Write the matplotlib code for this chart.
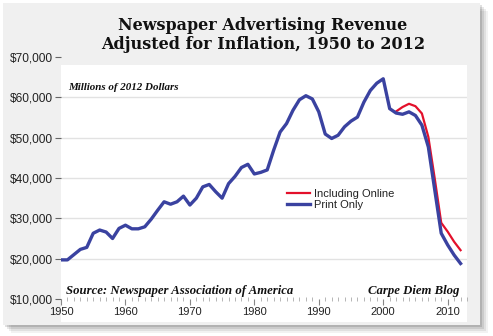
import matplotlib
matplotlib.use("Agg")
import matplotlib.pyplot as plt
from matplotlib.patches import Rectangle
from matplotlib.ticker import FuncFormatter, MultipleLocator

# Millions of 2012 dollars
years = list(range(1950, 2013))
print_only = [19700, 19700, 21000, 22300, 22800, 26300, 27100, 26600, 25000, 27500,
              28300, 27400, 27400, 27900, 29800, 32000, 34100, 33500, 34100, 35500,
              33300, 35000, 37800, 38400, 36600, 35000, 38600, 40400, 42600, 43400,
              41000, 41400, 42000, 46900, 51400, 53500, 56800, 59400, 60400, 59600,
              56400, 50900, 49800, 50600, 52700, 54100, 55100, 58800, 61700, 63500,
              64600, 57200, 56100, 55800, 56400, 55500, 53100, 47700, 37000, 26300,
              23400, 20900, 18800]
online_years = list(range(2002, 2013))
incl_online = [56500, 57600, 58400, 57800, 56000, 50200, 39800, 28900, 26700, 24200, 22100]

yticks = [10000, 20000, 30000, 40000, 50000, 60000, 70000]
xticks = [1950, 1960, 1970, 1980, 1990, 2000, 2010]

W, H = 493, 336
fig = plt.figure(figsize=(W / 100, H / 100), dpi=100)
fig.patch.set_facecolor("white")

# drop shadow + grey panel
for i, a in enumerate([0.05, 0.07, 0.09, 0.12]):
    off = 8 - 2 * i
    fig.patches.append(Rectangle(((3 + off) / W, 1 - (325 + off) / H), 477 / W, 322 / H,
                                 transform=fig.transFigure, color="black", alpha=a, lw=0, zorder=-3))
fig.patches.append(Rectangle((3 / W, 1 - 325 / H), 477 / W, 322 / H,
                             transform=fig.transFigure, color="#f0f0f0", lw=0, zorder=-2))
# white plot region
fig.patches.append(Rectangle((61 / W, 1 - 322 / H), 406 / W, 257 / H,
                             transform=fig.transFigure, color="white", lw=0, zorder=-1))

ax = fig.add_axes([61 / W, 1 - 299 / H, 406 / W, 242 / H])
ax.set_facecolor("none")
for s in ax.spines.values():
    s.set_visible(False)

for v in yticks[1:-1]:
    ax.axhline(v, color="#e2e2e2", lw=1.0, zorder=0)

ax.plot(online_years, incl_online, color="#e3102b", lw=1.6, label="Including Online", zorder=2)
ax.plot(years, print_only, color="#3a42a0", lw=2.4, label="Print Only", zorder=3)

ax.set_xlim(1950, 2013)
ax.set_ylim(10000, 70000)
ax.set_xticks(xticks)
ax.xaxis.set_minor_locator(MultipleLocator(1))
ax.set_yticks(yticks)
ax.yaxis.set_major_formatter(FuncFormatter(lambda v, p: "${:,.0f}".format(v)))
ax.tick_params(axis="y", direction="out", length=4, width=0.8, color="#666666",
               labelsize=8.6, labelcolor="#222222", pad=2)
ax.tick_params(axis="x", which="major", direction="out", length=4, width=0.8,
               color="#888888", labelsize=8, labelcolor="#222222", pad=2)
ax.tick_params(axis="x", which="minor", direction="inout", length=3, width=0.6, color="#aaaaaa")
for lab in ax.get_xticklabels() + ax.get_yticklabels():
    lab.set_family(["Liberation Sans", "DejaVu Sans"])

leg = ax.legend(loc="center left", bbox_to_anchor=(287 / W, 1 - 199.5 / H),
                bbox_transform=fig.transFigure, frameon=False, handlelength=2.1,
                handletextpad=0.3, labelspacing=0.15, borderpad=0, borderaxespad=0,
                prop={"family": "Liberation Sans", "size": 8})
for t in leg.get_texts():
    t.set_color("#222222")

serif = ["Liberation Serif", "DejaVu Serif"]
fig.text(263 / W, 1 - 35 / H, "Newspaper Advertising Revenue\nAdjusted for Inflation, 1950 to 2012",
         ha="center", va="center", fontsize=11.5, fontweight="bold",
         family=["DejaVu Serif"], color="#111111", linespacing=1.2)
fig.text(68 / W, 1 - 88 / H, "Millions of 2012 Dollars", ha="left", va="center",
         fontsize=7.9, fontweight="bold", style="italic", family=serif, color="#111111")
fig.text(66 / W, 1 - 291 / H, "Source: Newspaper Association of America", ha="left", va="center",
         fontsize=9.2, fontweight="bold", style="italic", family=serif, color="#111111")
fig.text(459 / W, 1 - 291 / H, "Carpe Diem Blog", ha="right", va="center",
         fontsize=9.2, fontweight="bold", style="italic", family=serif, color="#111111")

fig.savefig("out.png", dpi=100)
